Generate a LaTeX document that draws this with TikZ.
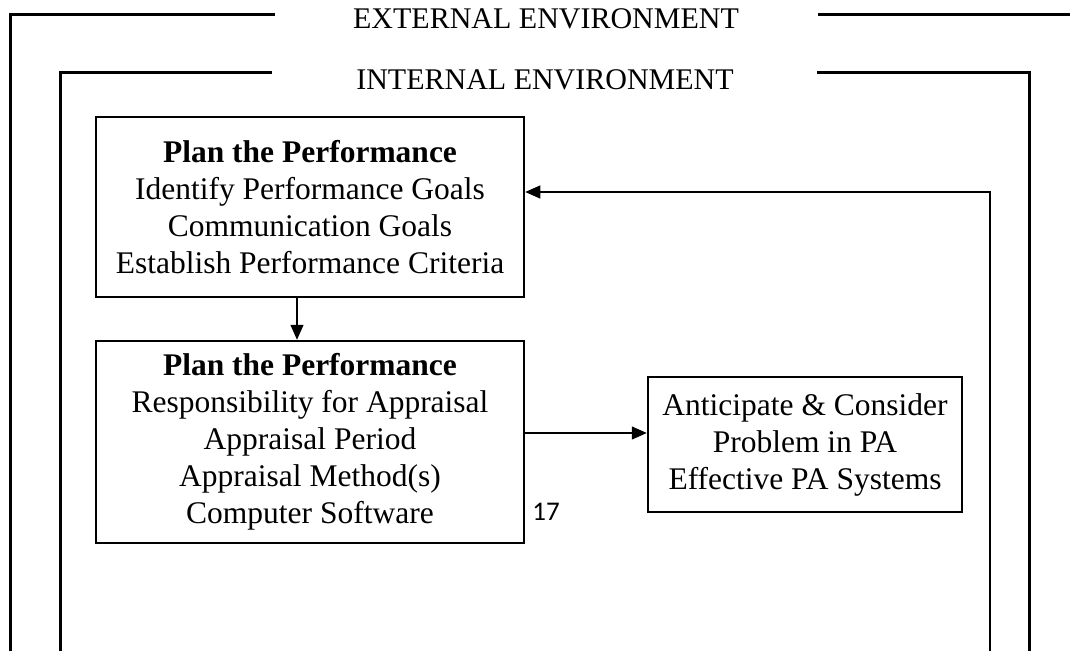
\documentclass[tikz,border=0pt]{standalone}
\usepackage{fontspec}
\setmainfont{Liberation Serif}
\newfontfamily\labelsans{Carlito}
\usetikzlibrary{arrows.meta}

\begin{document}
\begin{tikzpicture}[x=1pt,y=-1pt,
  frame/.style={line width=3pt},
  title/.style={font=\fontsize{30}{34}\selectfont, inner sep=0pt},
  stagebox/.style={draw, line width=2.5pt, align=center, inner sep=0pt,
    font=\fontsize{31.5}{37}\selectfont},
  link/.style={line width=1.3pt, -{Triangle[length=15pt,width=13pt]}}]
\useasboundingbox (0,0) rectangle (1070,651);

% environment frames
\draw[frame] (10,651) -- (10,14) -- (275,14);
\draw[frame] (818,14) -- (1070,14);
\node[title] (ext) at (546,19) {EXTERNAL ENVIRONMENT};

\draw[frame] (60,651) -- (60,72) -- (272,72);
\draw[frame] (817,72) -- (1029,72) -- (1029,651);
\node[title] (int) at (545,80) {INTERNAL ENVIRONMENT};

% stages
\node[stagebox, minimum width=428pt, minimum height=180pt] (plan) at (310,207)
  {\textbf{Plan the Performance}\\Identify Performance Goals\\Communication Goals\\Establish Performance Criteria};
\node[stagebox, minimum width=428pt, minimum height=202pt] (appr) at (310,442)
  {\textbf{Plan the Performance}\\Responsibility for Appraisal\\Appraisal Period\\Appraisal Method(s)\\Computer Software};
\node[stagebox, minimum width=314pt, minimum height=135pt] (antic) at (805,444.5)
  {Anticipate \& Consider\\Problem in PA\\Effective PA Systems};

\node[font=\labelsans\fontsize{27}{30}\selectfont, inner sep=0pt] (num) at (546,512) {17};

% connectors
\coordinate (down) at (297,0);
\coordinate (side) at (0,433);
\coordinate (fbstart) at (990,651);
\coordinate (fbturn) at (990,192);
\draw[link] (plan.south -| down) -- (appr.north -| down);
\draw[link] (appr.east |- side) -- (antic.west |- side);
\draw[link] (fbstart) -- (fbturn) -- (plan.east |- fbturn);
\end{tikzpicture}
\end{document}
